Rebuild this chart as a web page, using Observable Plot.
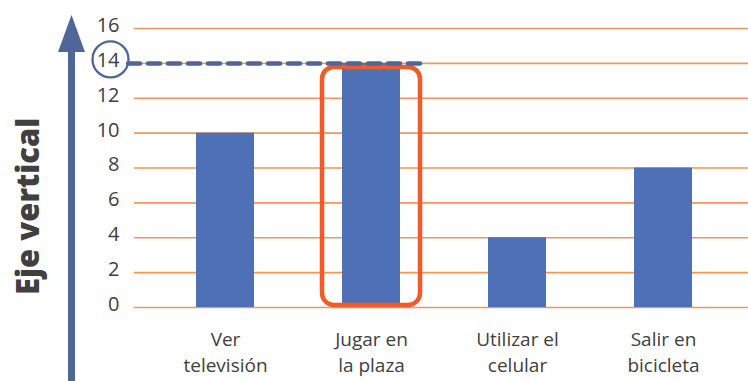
<!DOCTYPE html>
<html><head><meta charset="utf-8">
<script src="https://cdn.jsdelivr.net/npm/d3@7"></script>
<script src="https://cdn.jsdelivr.net/npm/@observablehq/plot@0.6"></script>
<style>body{margin:0;background:#fff;font-family:'Open Sans',sans-serif}</style>
</head><body><div id="chart"></div>
<script>
const categories = ["Ver televisión","Jugar en la plaza","Utilizar el celular","Salir en bicicleta"];
const tickLabels = ["Ver\ntelevisión","Jugar en\nla plaza","Utilizar el\ncelular","Salir en\nbicicleta"];
const values = [10,14,4,8];
const yTicks = [0,2,4,6,8,10,12,14,16];
const highlightCategory = ["Jugar en la plaza"];
const highlightValue = [14];
const axisTitle = ["Eje vertical"];

const data = categories.map((c,i)=>({category:c, value:values[i]}));
const W = 748, H = 381, ML = 134, MR = 0, MT = 28, MB = 74;
const blue = "#4f6698";

const plot = Plot.plot({
  width: W, height: H,
  marginLeft: ML, marginRight: MR, marginTop: MT, marginBottom: MB,
  style: {fontFamily: "'Open Sans', sans-serif", color: "#404040", background: "#fff"},
  x: {domain: categories, paddingInner: 0.6, paddingOuter: 0.3, insetLeft: 17, insetRight: 10, label: null},
  y: {domain: [0,16], label: null},
  marks: [
    Plot.ruleY(yTicks, {stroke: "#f39656", strokeWidth: 1.6}),
    Plot.barY(data, {x: "category", y: "value", fill: "#4e70b6"}),
    Plot.barY(highlightCategory, {x: d => d, y1: 0, y2: highlightValue[0], fill: "none", stroke: "#f15a29", strokeWidth: 4.5, rx: 12, insetLeft: -20, insetRight: -20, insetTop: 4, insetBottom: 2}),
    Plot.ruleY(highlightValue, {stroke: blue, strokeWidth: 4.5, strokeDasharray: "12 8", strokeLinecap: "round", insetLeft: -6, insetRight: W - 420}),
    Plot.dot(highlightValue, {y: d => d, frameAnchor: "left", dx: -24, dy: -4, r: 18, stroke: blue, strokeWidth: 2.3, fill: "none"}),
    Plot.axisY({ticks: yTicks, tickSize: 0, tickPadding: 15, fontSize: 20, fill: "#404040", dy: -3, label: null}),
    Plot.axisX({tickSize: 0, tickPadding: 20, fontSize: 19, lineHeight: 1.36, fill: "#404040", tickFormat: d => tickLabels[categories.indexOf(d)], label: null}),
    Plot.text(axisTitle, {text: d => d, frameAnchor: "left", rotate: -90, dx: -105, dy: 127, fontSize: 31, fontWeight: 800, fill: "#404040"})
  ]
});
document.getElementById("chart").appendChild(plot);

// decorative axis arrow anchored to the y scale
const svg = d3.select(plot);
const y = plot.scale("y");
const yTop = y.apply(16);
svg.append("line").attr("x1", 71.5).attr("x2", 71.5).attr("y1", yTop + 18).attr("y2", H)
  .attr("stroke", blue).attr("stroke-width", 7);
svg.append("path").attr("d", `M58,${yTop+24} L71.5,${yTop-13} L85,${yTop+24} Z`).attr("fill", blue);
</script></body></html>
